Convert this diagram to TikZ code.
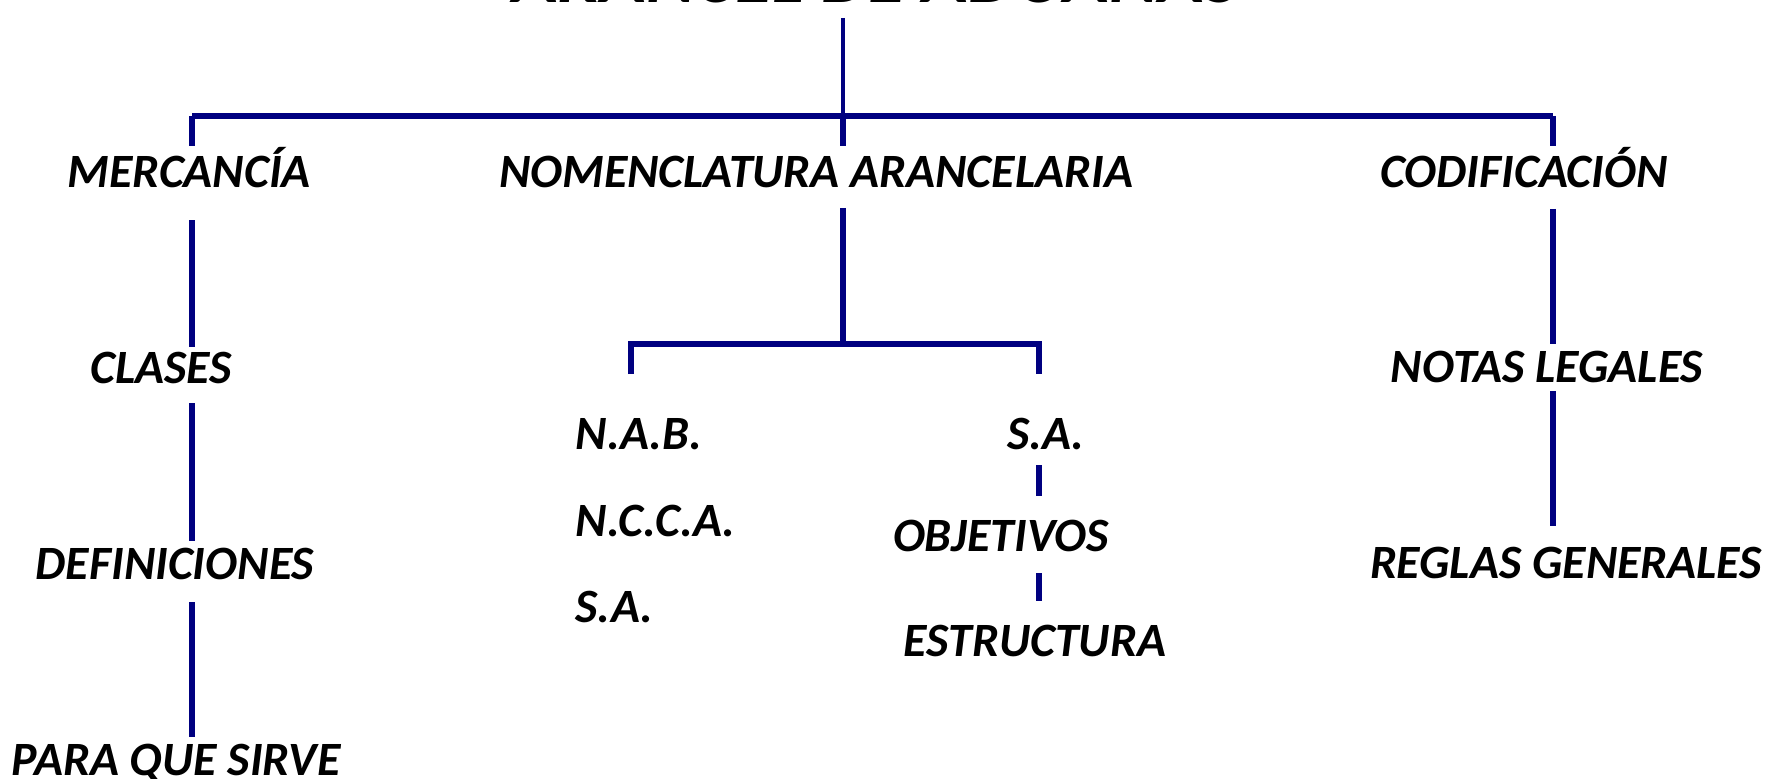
\documentclass[tikz,border=0pt]{standalone}
\usepackage{fontspec}
\setmainfont{Carlito}
\definecolor{azul}{RGB}{0,0,128}
\tikzset{
  lbl/.style={anchor=base, inner sep=0pt, font=\fontsize{13.6}{15}\selectfont\bfseries\itshape},
  rama/.style={draw=azul, line width=1.7pt},
}
\begin{document}
\begin{tikzpicture}[x=0.01cm,y=-0.01cm]
    \useasboundingbox (0,0) rectangle (1767,779);
    \clip (0,0) rectangle (1767,779);

    % titulo (cortado arriba)
    \node[lbl, font=\fontsize{21.5}{24}\selectfont\bfseries\itshape] (titulo) at (876,2.5) {ARANCEL DE ADUANAS};

    % primer nivel
    \node[lbl] (merc) at (189,188) {MERCANCÍA};
    \node[lbl] (nomen) at (816,188) {NOMENCLATURA ARANCELARIA};
    \node[lbl] (codif) at (1524,188) {CODIFICACIÓN};

    % mercancia
    \node[lbl] (clases) at (161,383) {CLASES};
    \node[lbl] (defin) at (175,579) {DEFINICIONES};
    \node[lbl] (sirve) at (176,775) {PARA QUE SIRVE};

    % nomenclatura
    \node[lbl, anchor=base west] (nab) at (575,449) {N.A.B.};
    \node[lbl, anchor=base west] (ncca) at (575,536) {N.C.C.A.};
    \node[lbl, anchor=base west] (saa) at (575,622) {S.A.};
    \node[lbl] (sab) at (1046,449) {S.A.};
    \node[lbl] (obj) at (1001,551) {OBJETIVOS};
    \node[lbl] (estr) at (1035,656) {ESTRUCTURA};

    % codificacion
    \node[lbl] (notas) at (1547,382) {NOTAS LEGALES};
    \node[lbl] (reglas) at (1566,578) {REGLAS GENERALES};

    % ramas
    \coordinate (raiz) at (843,116);
    \coordinate (izq) at (192,116);
    \coordinate (der) at (1553,116);
    \draw[rama, line width=1.4pt] (843,18) -- (raiz);
    \draw[rama] (izq) -- (der);
    \draw[rama] (izq) -- ++(0,30);
    \draw[rama] (raiz) -- ++(0,30);
    \draw[rama] (der) -- ++(0,30);

    \draw[rama] (192,220) -- (192,347);
    \draw[rama] (192,403) -- (192,541);
    \draw[rama] (192,602) -- (192,737);

    \coordinate (bajo) at (843,344);
    \draw[rama] (843,208) -- (bajo);
    \draw[rama] (631,374) -- (631,344) -- (1039,344) -- (1039,374);
    \draw[rama] (1039,465) -- (1039,496);
    \draw[rama] (1039,573) -- (1039,601);

    \draw[rama] (1553,209) -- (1553,344);
    \draw[rama] (1553,391) -- (1553,526);
\end{tikzpicture}
\end{document}
